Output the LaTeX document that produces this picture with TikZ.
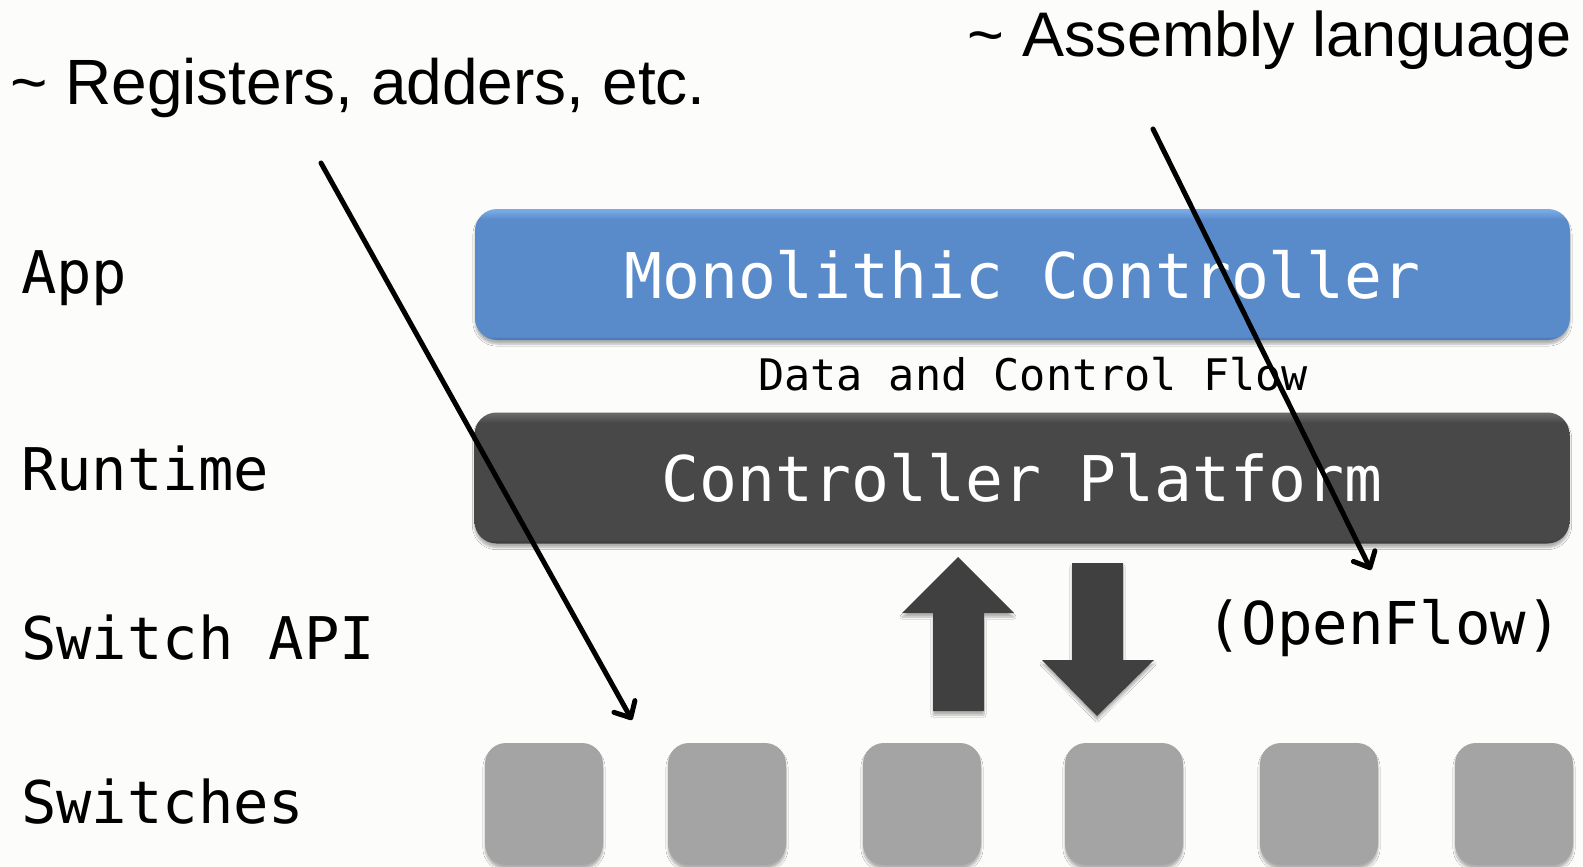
\documentclass[tikz,border=0pt]{standalone}
\usepackage{fontspec}
\setmainfont{Liberation Sans}
\newfontfamily\codefont{DejaVu Sans Mono}
\usetikzlibrary{arrows.meta,shadows.blur}

\definecolor{bgcol}{RGB}{252,252,250}
\definecolor{appblue}{RGB}{89,139,203}
\definecolor{appbluelight}{RGB}{122,170,230}
\definecolor{appbluedark}{RGB}{70,115,175}
\definecolor{rundark}{RGB}{72,72,72}
\definecolor{rundarklight}{RGB}{104,104,104}
\definecolor{rundarkdeep}{RGB}{56,56,56}
\definecolor{blockgray}{RGB}{64,64,64}
\definecolor{switchgray}{RGB}{164,164,164}

% bars with a light rim on top and a darker rim at the bottom
\pgfdeclareverticalshading{bluebar}{100bp}{color(0bp)=(appbluedark); color(25bp)=(appbluedark);
  color(26.5bp)=(appblue); color(71bp)=(appblue); color(74.5bp)=(appbluelight); color(100bp)=(appbluelight)}
\pgfdeclareverticalshading{darkbar}{100bp}{color(0bp)=(rundarkdeep); color(25bp)=(rundarkdeep);
  color(26.5bp)=(rundark); color(71bp)=(rundark); color(74.5bp)=(rundarklight); color(100bp)=(rundarklight)}

\begin{document}
\begin{tikzpicture}[x=1pt,y=-1pt,
  softshadow/.style={blur shadow={shadow xshift=0pt,shadow yshift=-4pt,shadow blur steps=6,shadow opacity=30}},
  layerbox/.style={rounded corners=22pt,minimum width=1095pt,minimum height=131pt,
    inner sep=0pt,text=white,font=\codefont\fontsize{63}{63}\selectfont,softshadow},
  switchbox/.style={rounded corners=21pt,fill=switchgray,minimum width=118pt,
    minimum height=122pt,inner sep=0pt,softshadow},
  tierlabel/.style={anchor=base west,inner sep=0pt,font=\codefont\fontsize{58.8}{58.8}\selectfont},
  remark/.style={anchor=base,inner sep=0pt},
  pointer/.style={line width=5pt,line cap=round,
    -{Straight Barb[round,length=13pt,width=24pt,line width=5pt]}},
  blockarrow/.style={fill=blockgray,softshadow}]

\fill[bgcol] (0,0) rectangle (1583,867);
\useasboundingbox (0,0) rectangle (1583,867);

% tier names on the left
\node[tierlabel] (app)     at (21,293) {App};
\node[tierlabel] (runtime) at (21,490) {Runtime};
\node[tierlabel] (api)     at (21,659) {Switch API};
\node[tierlabel] (swlabel) at (21,823) {Switches};

% controller stack
\node[layerbox,shading=bluebar] (mono) at (1022.5,274.5) {Monolithic Controller};
\node[anchor=base,inner sep=0pt,font=\codefont\fontsize{43.5}{43.5}\selectfont] (flow)
  at (1033,390) {Data and Control Flow};
\node[layerbox,shading=darkbar] (platform) at (1022,478) {Controller Platform};

% switches
\foreach \i/\x in {1/544,2/727,3/922,4/1124,5/1319,6/1514}
  \node[switchbox] (sw\i) at (\x,804) {};

% up and down block arrows between platform and switches
\path[blockarrow] (958,557) -- (1014,613) -- (984,613) -- (984,711)
  -- (933,711) -- (933,613) -- (902,613) -- cycle;
\path[blockarrow] (1072,563) -- (1123,563) -- (1123,660) -- (1154,660)
  -- (1097,716) -- (1042,660) -- (1072,660) -- cycle;

\node[anchor=base,inner sep=0pt,font=\codefont\fontsize{59}{59}\selectfont] (openflow)
  at (1384,644) {(OpenFlow)};

% analogies
\node[remark,font=\fontsize{64}{64}\selectfont] (regs) at (358,104) {\textasciitilde{} Registers, adders, etc.};
\node[remark,font=\fontsize{63}{63}\selectfont] (asm)  at (1270,57) {\textasciitilde{} Assembly language};

\coordinate (regsfrom) at (321,163);
\coordinate (regsto)   at (632,720);
\coordinate (asmfrom)  at (1153,129);
\coordinate (asmto)    at (1371,570);
\draw[pointer] (regsfrom) -- (regsto);
\draw[pointer] (asmfrom) -- (asmto);
\end{tikzpicture}
\end{document}
